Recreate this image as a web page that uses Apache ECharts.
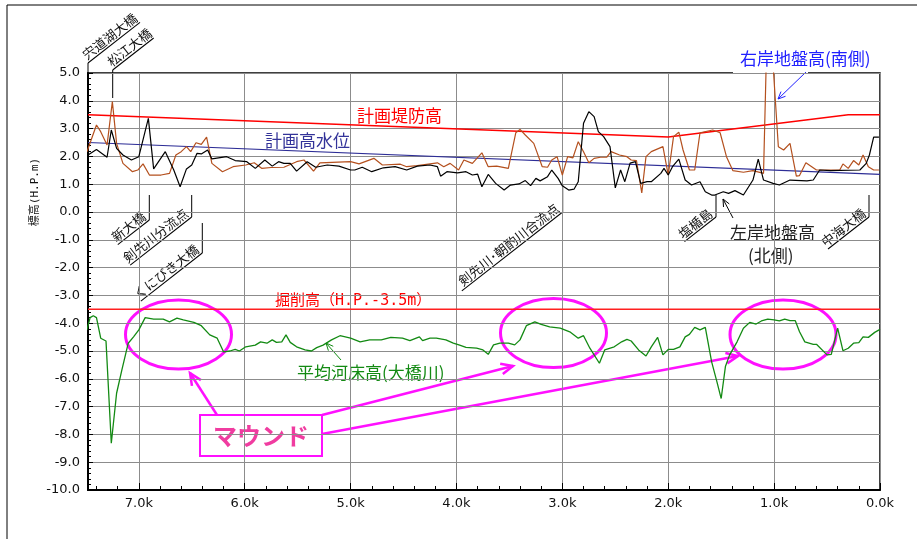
<!DOCTYPE html>
<html>
<head>
<meta charset="utf-8">
<script src="https://cdn.jsdelivr.net/npm/echarts@6/dist/echarts.min.js"></script>
<style>
  html, body { margin: 0; padding: 0; background: #fff; }
  #chart { width: 917px; height: 539px; }
</style>
</head>
<body>
<div id="chart"></div>
<script>
  // distance (k) / elevation (H.P. m)
  const leftBank = [
    [7.48,2.05],[7.40,2.25],[7.30,1.97],[7.26,2.95],[7.21,2.29],[7.15,2.05],[7.07,1.87],[7.00,1.99],
    [6.91,3.37],[6.86,1.55],[6.75,2.17],[6.67,1.51],[6.61,0.91],[6.55,1.55],[6.50,1.69],[6.45,2.11],
    [6.41,2.09],[6.35,2.23],[6.31,1.91],[6.17,1.99],[6.09,1.85],[5.98,1.81],[5.90,1.57],[5.81,1.87],
    [5.74,1.65],[5.68,1.81],[5.63,1.75],[5.57,1.75],[5.51,1.47],[5.41,1.81],[5.33,1.61],[5.22,1.69],
    [5.11,1.65],[5.00,1.51],[4.96,1.51],[4.89,1.61],[4.80,1.45],[4.69,1.59],[4.58,1.63],[4.47,1.51],
    [4.37,1.65],[4.25,1.69],[4.18,1.63],[4.15,1.29],[4.09,1.45],[3.99,1.41],[3.91,1.45],[3.85,1.33],
    [3.80,1.36],[3.76,0.91],[3.70,1.35],[3.63,1.03],[3.55,0.79],[3.49,0.97],[3.41,1.01],[3.35,1.13],
    [3.30,0.95],[3.25,1.21],[3.21,1.12],[3.14,1.27],[3.10,1.51],[3.04,1.21],[3.00,0.94],[2.94,0.79],
    [2.89,0.82],[2.85,1.09],[2.80,3.19],[2.75,3.61],[2.70,3.43],[2.66,2.89],[2.61,2.71],[2.55,2.35],
    [2.50,0.87],[2.45,1.51],[2.41,1.09],[2.36,1.76],[2.31,1.81],[2.26,1.03],[2.20,1.09],[2.16,1.09],
    [2.07,1.39],[2.04,1.57],[2.00,1.33],[1.96,1.63],[1.90,1.90],[1.84,1.15],[1.78,0.97],[1.70,1.09],
    [1.65,0.73],[1.59,0.61],[1.56,0.61],[1.48,0.73],[1.43,0.67],[1.37,0.77],[1.29,0.61],[1.20,1.15],
    [1.15,1.90],[1.10,1.15],[1.01,1.03],[0.95,0.97],[0.85,1.15],[0.69,1.12],[0.63,1.15],[0.57,1.51],
    [0.47,1.49],[0.19,1.51],[0.13,1.75],[0.10,2.05],[0.06,2.69],[0.01,2.69]
  ];
  const rightBank = [
    [7.49,2.17],[7.40,3.13],[7.36,2.89],[7.30,2.41],[7.25,3.97],[7.21,2.47],[7.15,1.75],[7.06,1.45],
    [7.01,1.51],[6.96,1.73],[6.90,1.33],[6.79,1.33],[6.71,1.39],[6.65,2.05],[6.60,2.17],[6.55,2.35],
    [6.51,2.17],[6.46,2.49],[6.41,2.43],[6.36,2.69],[6.31,1.75],[6.21,1.45],[6.11,1.63],[5.99,1.69],
    [5.91,1.77],[5.84,1.57],[5.75,1.60],[5.63,1.61],[5.51,1.81],[5.44,1.87],[5.35,1.47],[5.29,1.77],
    [5.00,1.81],[4.92,1.73],[4.78,1.93],[4.70,1.69],[4.53,1.72],[4.47,1.63],[4.37,1.67],[4.18,1.77],
    [4.12,1.63],[4.06,1.75],[3.98,1.51],[3.93,1.87],[3.85,1.75],[3.76,2.13],[3.70,1.63],[3.62,1.65],
    [3.51,1.57],[3.44,2.85],[3.40,2.97],[3.35,2.77],[3.27,2.47],[3.19,1.63],[3.14,1.61],[3.10,1.87],
    [3.05,1.99],[3.00,1.33],[2.95,1.99],[2.90,1.95],[2.85,2.53],[2.80,2.17],[2.75,1.77],[2.70,1.93],
    [2.64,1.97],[2.58,1.97],[2.54,2.17],[2.46,2.05],[2.39,1.99],[2.35,1.87],[2.30,1.85],[2.25,0.69],
    [2.21,1.99],[2.16,2.17],[2.05,2.35],[2.00,1.33],[1.95,2.71],[1.90,2.87],[1.86,2.23],[1.80,1.51],
    [1.75,1.51],[1.70,2.85],[1.58,2.95],[1.51,2.85],[1.45,1.99],[1.39,1.49],[1.29,1.43],[1.20,1.49],
    [1.10,1.39],[1.075,5.3],[1.01,5.3],[0.96,2.35],[0.91,2.23],[0.85,2.47],[0.79,1.29],[0.76,1.31],
    [0.70,1.77],[0.60,1.51],[0.50,1.51],[0.38,1.51],[0.35,1.73],[0.30,1.57],[0.25,1.85],[0.20,1.69],
    [0.16,2.05],[0.11,1.63],[0.06,1.51],[0.01,1.51]
  ];
  const bedAvg = [
    [7.49,-4.24],[7.46,-3.80],[7.43,-3.73],[7.40,-3.80],[7.36,-4.54],[7.31,-4.64],[7.26,-8.32],[7.21,-6.52],
    [7.16,-5.68],[7.10,-4.72],[7.05,-4.49],[7.00,-4.24],[6.94,-3.80],[6.86,-3.85],[6.77,-3.85],[6.71,-3.95],
    [6.64,-3.82],[6.58,-3.88],[6.48,-3.97],[6.41,-4.09],[6.33,-4.42],[6.26,-4.54],[6.20,-5.03],[6.14,-5.00],
    [6.09,-4.94],[6.05,-5.00],[5.99,-4.85],[5.90,-4.79],[5.85,-4.67],[5.79,-4.72],[5.74,-4.60],[5.70,-4.69],
    [5.65,-4.67],[5.61,-4.42],[5.57,-4.69],[5.51,-4.85],[5.43,-4.96],[5.37,-5.00],[5.32,-4.88],[5.26,-4.79],
    [5.18,-4.60],[5.10,-4.45],[5.00,-4.54],[4.91,-4.67],[4.82,-4.60],[4.71,-4.60],[4.62,-4.51],[4.51,-4.54],
    [4.44,-4.63],[4.35,-4.49],[4.32,-4.63],[4.25,-4.54],[4.19,-4.54],[4.10,-4.60],[4.03,-4.72],[3.97,-4.79],
    [3.91,-4.87],[3.81,-4.90],[3.75,-4.96],[3.70,-5.12],[3.65,-4.78],[3.59,-4.72],[3.51,-4.72],[3.45,-4.78],
    [3.40,-4.60],[3.34,-4.09],[3.26,-3.95],[3.20,-4.04],[3.12,-4.13],[3.02,-4.18],[2.93,-4.31],[2.85,-4.54],
    [2.80,-4.45],[2.74,-4.90],[2.65,-5.44],[2.60,-4.96],[2.51,-4.85],[2.44,-4.67],[2.39,-4.58],[2.35,-4.64],
    [2.28,-4.96],[2.21,-5.18],[2.16,-4.85],[2.10,-4.51],[2.05,-5.14],[2.00,-4.94],[1.95,-4.94],[1.89,-4.85],
    [1.84,-4.49],[1.80,-4.40],[1.75,-4.15],[1.70,-4.24],[1.65,-4.15],[1.59,-5.39],[1.54,-6.11],[1.50,-6.71],
    [1.46,-5.56],[1.42,-5.14],[1.35,-4.67],[1.29,-4.18],[1.23,-3.97],[1.17,-4.03],[1.12,-3.92],[1.06,-3.85],
    [1.00,-3.88],[0.95,-3.92],[0.90,-3.85],[0.85,-3.91],[0.80,-3.91],[0.76,-4.31],[0.71,-4.67],[0.63,-4.76],
    [0.60,-4.76],[0.50,-5.14],[0.46,-5.12],[0.40,-4.18],[0.35,-4.99],[0.30,-4.90],[0.25,-4.72],[0.20,-4.70],
    [0.16,-4.49],[0.11,-4.51],[0.05,-4.33],[0.00,-4.22]
  ];
  const planLevee = [[7.48,3.5],[2.0,2.7],[0.3,3.5],[0,3.5]];
  const planHWL = [[7.48,2.5],[0,1.35]];
  const dredgeLevel = [[7.48,-3.5],[0,-3.5]];

  const JP = '"Noto Sans CJK JP", sans-serif';
  const MONO = '"DejaVu Sans Mono", "Noto Sans CJK JP", monospace';
  const ANG = 38 * Math.PI / 180;

  // leader line + slanted underlined label
  function bridge(name, x, y1, y2, len, up) {
    return [
      { type: 'line', shape: { x1: x, y1: y1, x2: x, y2: y2 }, style: { stroke: '#000', lineWidth: 1 } },
      { type: 'group', x: x, y: y2, rotation: ANG, children: [
        { type: 'line', shape: { x1: 0, y1: 0, x2: up ? len : -len, y2: 0 }, style: { stroke: '#000', lineWidth: 1 } },
        { type: 'text', x: up ? 1 : -1, y: -1, style: { text: name, fontSize: 13, fontFamily: JP, fill: '#111',
          align: up ? 'left' : 'right', verticalAlign: 'bottom' } }
      ] }
    ];
  }
  function arrow(x1, y1, x2, y2, color, w, h) {
    const a = Math.atan2(y2 - y1, x2 - x1), s = 0.42;
    return [
      { type: 'line', shape: { x1, y1, x2, y2 }, style: { stroke: color, lineWidth: w } },
      { type: 'polyline', shape: { points: [[x2 - h * Math.cos(a - s), y2 - h * Math.sin(a - s)], [x2, y2],
        [x2 - h * Math.cos(a + s), y2 - h * Math.sin(a + s)]] }, style: { stroke: color, lineWidth: w, fill: null } }
    ];
  }
  function label(text, x, y, color, size, font, extra) {
    return { type: 'text', x: x, y: y, style: Object.assign({ text: text, fill: color, fontSize: size,
      fontFamily: font || JP, verticalAlign: 'middle' }, extra || {}) };
  }
  function ring(cx, cy) {
    return { type: 'ellipse', shape: { cx, cy, rx: 53, ry: 34.5 }, style: { fill: null, stroke: '#ff10ff', lineWidth: 3 } };
  }

  const graphics = [].concat(
    [{ type: 'line', shape: { x1: 7, y1: 5, x2: 7, y2: 539 }, style: { stroke: '#000', lineWidth: 1 } },
     { type: 'line', shape: { x1: 7, y1: 5, x2: 917, y2: 5 }, style: { stroke: '#000', lineWidth: 1 } },
     { type: 'rect', shape: { x: 733, y: 70, width: 75, height: 5 }, style: { fill: '#fff' } },
     { type: 'text', x: 35, y: 192, rotation: Math.PI / 2, style: { text: '標高(H.P.m)', fontSize: 11, fontFamily: MONO,
       fill: '#111', align: 'center', verticalAlign: 'middle' } }],
    bridge('宍道湖大橋', 88, 73, 63, 66, true),
    bridge('松江大橋', 112.7, 98, 70, 52, true),
    bridge('新大橋', 149.3, 195, 220, 40, false),
    bridge('剣先川分流点', 191.7, 195, 217, 78, false),
    bridge('くにびき大橋', 202.3, 223, 253, 78, false),
    bridge('剣先川･朝酌川合流点', 562.7, 185, 212, 128, false),
    bridge('塩楯島', 716, 195, 217, 40, false),
    bridge('中海大橋', 869, 195, 217, 52, false),
    [label('計画堤防高', 357, 116, '#ff0000', 17),
     label('計画高水位', 265, 141, '#333399', 17),
     label('右岸地盤高(南側)', 740, 59, '#2020ff', 17),
     label('左岸地盤高', 730, 233, '#222', 17),
     label('(北側)', 748, 256, '#222', 17),
     label('掘削高（H.P.-3.5m）', 275, 301, '#ff0000', 15, MONO),
     label('平均河床高(大橋川)', 297, 373, '#138a13', 17)],
    arrow(806, 72, 778, 99, '#2020ff', 1, 8),
    arrow(733, 218, 723, 199, '#000', 1, 8),
    arrow(341, 360, 326, 343, '#138a13', 1, 8),
    [ring(178.5, 334.5), ring(553.5, 333), ring(783, 334.5)],
    arrow(217, 415, 190, 373, '#ff10ff', 2.5, 13),
    arrow(322, 415, 513, 366, '#ff10ff', 2.5, 13),
    arrow(322, 434, 738, 356, '#ff10ff', 2.5, 13),
    [{ type: 'rect', shape: { x: 200, y: 415, width: 122, height: 41 }, style: { fill: '#fff', stroke: '#ff10ff', lineWidth: 2 } },
     label('マウンド', 261, 436, '#f03ca0', 24, JP, { fontWeight: 'bold', align: 'center' })]
  );

  const chart = echarts.init(document.getElementById('chart'), null, { renderer: 'canvas' });
  const line = (name, data, color, w) => ({
    name: name, type: 'line', data: data, symbol: 'none', showSymbol: false, clip: true,
    lineStyle: { color: color, width: w || 1.2 }, itemStyle: { color: color }, animation: false
  });

  chart.setOption({
    animation: false,
    grid: { left: 88, right: 37, top: 73, bottom: 49, show: true, borderColor: '#000', borderWidth: 1.5 },
    xAxis: [{
      type: 'value', min: 0, max: 7.48, interval: 1, inverse: true,
      axisLine: { show: true, onZero: false, lineStyle: { color: '#000', width: 2 } },
      axisTick: { inside: true, length: 7, lineStyle: { color: '#000' } },
      splitLine: { show: true, lineStyle: { color: '#8c8c8c', width: 1 } },
      axisLabel: { color: '#111', fontSize: 13, fontFamily: 'DejaVu Sans', margin: 7,
        formatter: v => v > 7.4 ? '' : v.toFixed(1) + 'k' }
    }, {
      type: 'value', min: 0, max: 7.48, interval: 0.2, inverse: true, position: 'bottom',
      axisLine: { show: false, onZero: false }, axisLabel: { show: false }, splitLine: { show: false },
      axisTick: { inside: true, length: 4, lineStyle: { color: '#000' } }
    }],
    yAxis: {
      type: 'value', min: -10, max: 5, interval: 1, position: 'left',
      axisLine: { show: true, onZero: false, lineStyle: { color: '#000', width: 2 } },
      axisTick: { show: true, inside: true, length: 5, lineStyle: { color: '#000' } },
      minorTick: { show: true, splitNumber: 5, length: 3, lineStyle: { color: '#000' } },
      splitLine: { show: true, lineStyle: { color: '#8c8c8c', width: 1 } },
      axisLabel: { color: '#111', fontSize: 13, fontFamily: 'DejaVu Sans', margin: 8,
        formatter: v => v.toFixed(1) }
    },
    series: [
      line('計画堤防高', planLevee, '#ff0000', 1.4),
      line('計画高水位', planHWL, '#2d2d96', 1.2),
      line('掘削高', dredgeLevel, '#ff2020', 1.4),
      line('右岸地盤高(南側)', rightBank, '#b4501e', 1.2),
      line('左岸地盤高(北側)', leftBank, '#000000', 1.2),
      line('平均河床高(大橋川)', bedAvg, '#138a13', 1.3)
    ],
    graphic: graphics
  });
</script>
</body>
</html>
